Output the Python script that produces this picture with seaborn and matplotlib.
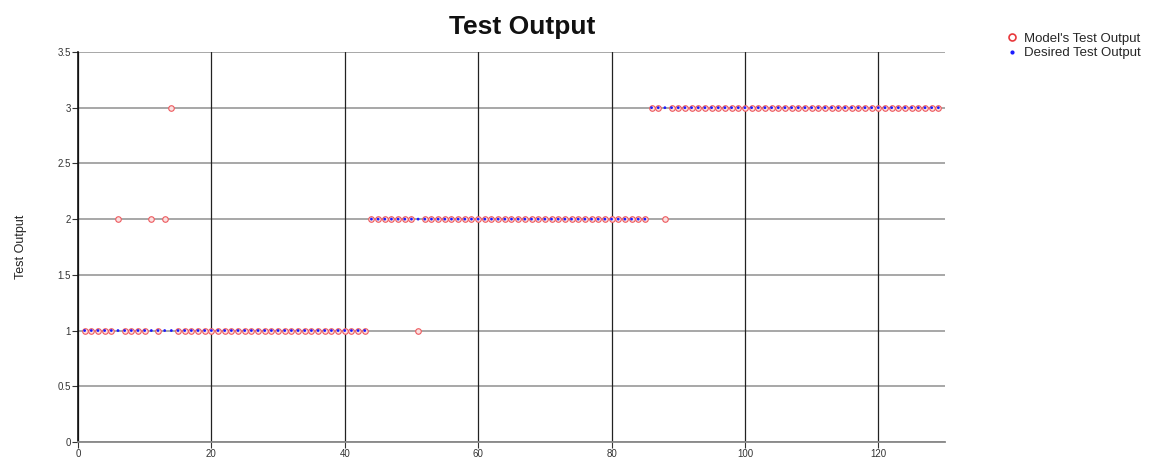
import numpy as np
import pandas as pd
import matplotlib
matplotlib.use("Agg")
import matplotlib.pyplot as plt
import seaborn as sns
from matplotlib.lines import Line2D

sns.set_theme(style="white")
plt.rcParams['font.family'] = ['Liberation Sans', 'DejaVu Sans']

# ---- data ----
sample_index = list(range(1, 130))
desired_output = [1] * 43 + [2] * 42 + [3] * 44
model_output = list(desired_output)
model_overrides = {6: 2, 11: 2, 13: 2, 14: 3, 51: 1, 88: 2}
for k, v in model_overrides.items():
    model_output[k - 1] = v

x_ticks = [0, 20, 40, 60, 80, 100, 120]
y_ticks = [0, 0.5, 1, 1.5, 2, 2.5, 3, 3.5]
y_tick_labels = ["0", "0.5", "1", "1.5", "2", "2.5", "3", "3.5"]

df = pd.DataFrame({"x": sample_index, "desired": desired_output, "model": model_output})

fig = plt.figure(figsize=(11.55, 4.58), dpi=100)
ax = fig.add_axes([0.0675, 0.035, 0.7507, 0.8515])

# grid
for yv in y_ticks:
    ax.axhline(yv, color="#a0a0a0", lw=1.3, zorder=0)
for xv in x_ticks:
    ax.axvline(xv, color="#222222", lw=0.9, zorder=0)

sns.scatterplot(data=df, x="x", y="model", ax=ax, marker="o", s=16,
                facecolor="#fbe0e0", edgecolor="#ee5a5e", linewidth=0.8, zorder=3, legend=False)
sns.scatterplot(data=df, x="x", y="desired", ax=ax, marker="o", s=4,
                color="#1a1aff", edgecolor="none", linewidth=0, zorder=4, legend=False)

ax.set_xlim(0, 130)
ax.set_ylim(0, 3.5)
ax.set_xticks(x_ticks)
ax.set_xticklabels([str(t) for t in x_ticks])
ax.set_yticks(y_ticks)
ax.set_yticklabels(y_tick_labels)
ax.tick_params(axis="both", which="both", labelsize=7, colors="#333333",
               length=4, width=0.8, direction="out", pad=1, bottom=True, left=True)

for s in ["top", "right"]:
    ax.spines[s].set_visible(False)
ax.spines["left"].set_color("#111111")
ax.spines["left"].set_linewidth(1.2)
ax.spines["bottom"].set_color("#888888")
ax.spines["bottom"].set_linewidth(1.3)
ax.set_zorder(1)

ax.set_xlabel("")
ax.set_ylabel("Test Output", fontsize=9, color="#222222", labelpad=22)
fig.text(0.452, 0.942, "Test Output", fontsize=19, fontweight="bold", color="#111111",
         ha="center", va="center")

handles = [
    Line2D([], [], linestyle="none", marker="o", markersize=5, markerfacecolor="white",
           markeredgecolor="#e8383c", markeredgewidth=1.2, label="Model's Test Output"),
    Line2D([], [], linestyle="none", marker="o", markersize=2, markerfacecolor="#1a1aff",
           markeredgecolor="#1a1aff", label="Desired Test Output"),
]
fig.legend(handles=handles, loc="upper left", bbox_to_anchor=(0.867, 0.94), frameon=False,
           fontsize=9.5, handlelength=0.8, handletextpad=0.5, labelspacing=0.15, borderaxespad=0)

fig.savefig("out.png", dpi=100)
